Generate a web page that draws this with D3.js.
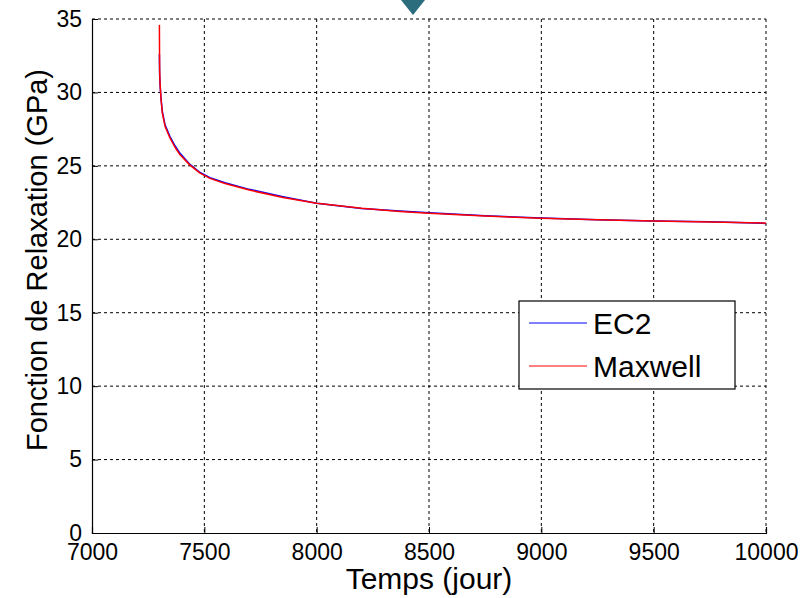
<!DOCTYPE html>
<html>
<head>
<meta charset="utf-8">
<script src="https://cdn.jsdelivr.net/npm/d3@7"></script>
<style>
  body { margin: 0; background: #fff; }
  svg { display: block; font-family: "Liberation Sans", Arial, sans-serif; }
</style>
</head>
<body>
<svg id="chart" width="811" height="598"></svg>
<script>
// Time in days
const timeDays = [7300, 7301, 7303, 7307, 7313, 7325, 7347, 7370, 7392, 7436, 7481, 7525, 7592, 7700, 7850, 8000, 8200, 8370, 8500, 8750, 9000, 9250, 9500, 9750, 10000]
// Relaxation function (GPa)
const ec2Values = [32.6, 31.2, 30.5, 29.6, 28.7, 27.8, 27.0, 26.35, 25.85, 25.1, 24.55, 24.2, 23.85, 23.4, 22.9, 22.45, 22.1, 21.92, 21.8, 21.6, 21.45, 21.33, 21.24, 21.2, 21.08]
const maxwellValues = [34.6, 31.6, 30.6, 29.6, 28.6, 27.7, 26.9, 26.25, 25.75, 25.05, 24.5, 24.15, 23.8, 23.35, 22.85, 22.45, 22.12, 21.9, 21.77, 21.58, 21.43, 21.33, 21.25, 21.18, 21.1]

const xTicks = [7000, 7500, 8000, 8500, 9000, 9500, 10000]
const yTicks = [0, 5, 10, 15, 20, 25, 30, 35]

const series = [
  { name: "EC2", color: "#0000ff", values: ec2Values },
  { name: "Maxwell", color: "#ff0000", values: maxwellValues }
]

const svg = d3.select("#chart")
const margin = { top: 19, left: 92 }
const innerWidth = 674
const innerHeight = 514

// teal marker cut off at the top of the slide
svg.append("path")
  .attr("d", "M401,0 L425,0 L413,15 Z")
  .attr("fill", "#2c6d7d")

const chart = svg.append("g")
  .attr("transform", `translate(${margin.left}, ${margin.top})`)

const x = d3.scaleLinear().domain([7000, 10000]).range([0, innerWidth])
const y = d3.scaleLinear().domain([0, 35]).range([innerHeight, 0])

// Grid lines
chart.append("g")
  .selectAll("line")
  .data(xTicks.slice(1))
  .join("line")
  .attr("x1", d => x(d)).attr("x2", d => x(d))
  .attr("y1", 0).attr("y2", innerHeight)
  .attr("stroke", "#000")
  .attr("stroke-dasharray", "3,3")

chart.append("g")
  .selectAll("line")
  .data(yTicks.slice(1))
  .join("line")
  .attr("x1", 0).attr("x2", innerWidth)
  .attr("y1", d => y(d)).attr("y2", d => y(d))
  .attr("stroke", "#000")
  .attr("stroke-dasharray", "3,3")

// Axes (ticks pointing inward)
const xAxis = chart.append("g")
  .attr("transform", `translate(0, ${innerHeight})`)
  .call(d3.axisBottom(x).tickValues(xTicks).tickSize(-6).tickPadding(14).tickFormat(d3.format("d")))

const yAxis = chart.append("g")
  .call(d3.axisLeft(y).tickValues(yTicks).tickSize(-6).tickPadding(10).tickFormat(d3.format("d")))

chart.selectAll(".domain").attr("stroke", "#000").attr("stroke-width", 1.2)
chart.selectAll(".tick line").attr("stroke", "#000")

xAxis.selectAll("text")
  .attr("fill", "#000")
  .style("font-size", "23px")
  .attr("dy", "0.55em")

yAxis.selectAll("text")
  .attr("fill", "#000")
  .style("font-size", "23px")

// Lines
const line = d3.line()
  .x((d, i) => x(timeDays[i]))
  .y(d => y(d))

series.forEach(s => {
  chart.append("path")
    .datum(s.values)
    .attr("fill", "none")
    .attr("stroke", s.color)
    .attr("stroke-width", 1.5)
    .attr("stroke-linejoin", "round")
    .attr("d", line)
})

// Axis labels
svg.append("text")
  .attr("x", margin.left + innerWidth / 2)
  .attr("y", 589)
  .attr("text-anchor", "middle")
  .style("font-size", "30px")
  .text("Temps (jour)")

svg.append("text")
  .attr("transform", `translate(47, ${margin.top + innerHeight / 2 - 16}) rotate(-90)`)
  .attr("text-anchor", "middle")
  .style("font-size", "29px")
  .text("Fonction de Relaxation (GPa)")

// Legend
const legend = svg.append("g").attr("transform", "translate(519, 301)")
legend.append("rect")
  .attr("width", 216)
  .attr("height", 88)
  .attr("fill", "#fff")
  .attr("stroke", "#000")
  .attr("stroke-width", 1.2)

series.forEach((s, i) => {
  const row = legend.append("g").attr("transform", `translate(0, ${22 + i * 43})`)
  row.append("line")
    .attr("x1", 10).attr("x2", 68)
    .attr("stroke", s.color)
    .attr("stroke-width", 1)
  row.append("text")
    .attr("x", 74)
    .attr("dy", "0.36em")
    .style("font-size", "30px")
    .text(s.name)
})
</script>
</body>
</html>
